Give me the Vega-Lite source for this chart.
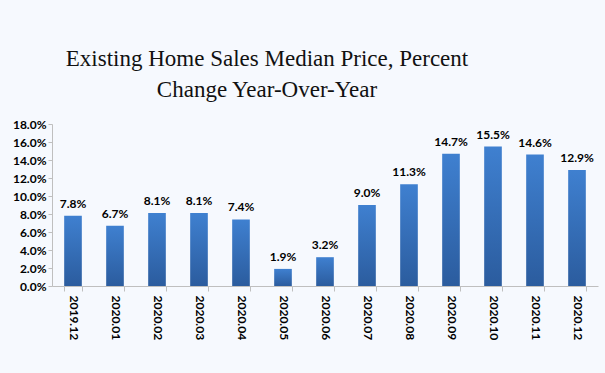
{
  "$schema": "https://vega.github.io/schema/vega-lite/v6.json",
  "width": 546,
  "height": 162,
  "autosize": {"type": "none"},
  "padding": {"left": 52, "top": 124, "right": 7, "bottom": 87},
  "background": "#f6f9fe",
  "title": {
    "text": ["Existing Home Sales Median Price, Percent", "Change Year-Over-Year"],
    "font": "Liberation Serif",
    "fontSize": 23,
    "fontWeight": "normal",
    "color": "#111111",
    "lineHeight": 31,
    "anchor": "middle",
    "dx": -58,
    "offset": 16
  },
  "data": {
    "values": [
      {"month": "2019.12", "value": 0.078},
      {"month": "2020.01", "value": 0.067},
      {"month": "2020.02", "value": 0.081},
      {"month": "2020.03", "value": 0.081},
      {"month": "2020.04", "value": 0.074},
      {"month": "2020.05", "value": 0.019},
      {"month": "2020.06", "value": 0.032},
      {"month": "2020.07", "value": 0.090},
      {"month": "2020.08", "value": 0.113},
      {"month": "2020.09", "value": 0.147},
      {"month": "2020.10", "value": 0.155},
      {"month": "2020.11", "value": 0.146},
      {"month": "2020.12", "value": 0.129}
    ]
  },
  "config": {
    "view": {"stroke": null},
    "axis": {"labelFont": "Lato", "labelFontWeight": "bold", "labelFontSize": 12, "labelColor": "#000000", "domainColor": "#bfbfbf", "tickColor": "#bfbfbf", "title": null}
  },
  "encoding": {
    "x": {
      "field": "month",
      "type": "nominal",
      "sort": null,
      "scale": {"paddingInner": 0.58, "paddingOuter": 0.29},
      "axis": {"labelAngle": 90, "tickBand": "extent", "tickSize": 5, "labelPadding": 4, "grid": false}
    },
    "y": {
      "field": "value",
      "type": "quantitative",
      "scale": {"domain": [0, 0.18]},
      "axis": {"values": [0, 0.02, 0.04, 0.06, 0.08, 0.1, 0.12, 0.14, 0.16, 0.18], "format": ".1%", "grid": false, "tickSize": 4, "labelPadding": 2}
    }
  },
  "layer": [
    {
      "mark": {
        "type": "bar",
        "color": {
          "gradient": "linear",
          "x1": 0, "y1": 0, "x2": 0, "y2": 1,
          "stops": [
            {"offset": 0, "color": "#3f80d0"},
            {"offset": 1, "color": "#2b5c9e"}
          ]
        }
      }
    },
    {
      "mark": {"type": "text", "font": "Lato", "fontWeight": "bold", "fontSize": 12, "baseline": "bottom", "dy": -5, "color": "#000000"},
      "encoding": {"text": {"field": "value", "type": "quantitative", "format": ".1%"}}
    }
  ]
}
